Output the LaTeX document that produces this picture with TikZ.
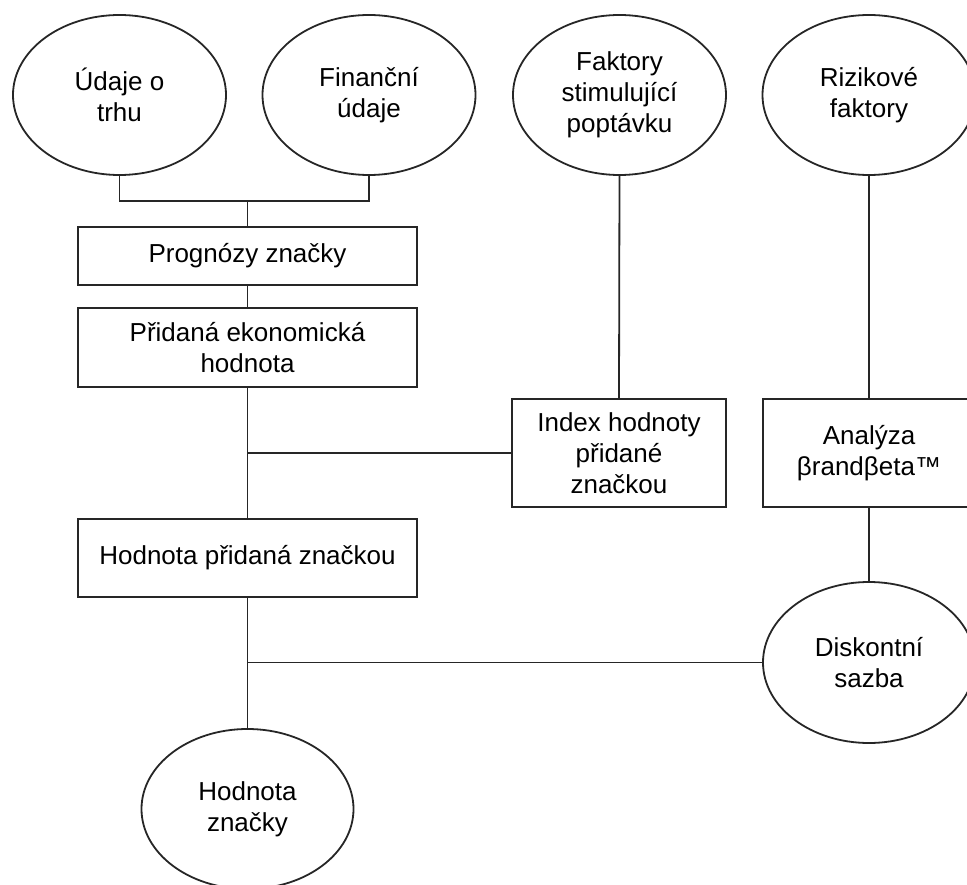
\documentclass[tikz,border=0pt]{standalone}
\usepackage{fontspec}
\setmainfont{Liberation Sans}
\usetikzlibrary{shapes.geometric}
\begin{document}
\begin{tikzpicture}[x=1pt,y=-1pt,
  every node/.style={font=\fontsize{26}{31}\selectfont, align=center, inner sep=0pt, line width=1.8pt, draw=black!85},
  oval/.style={ellipse, minimum width=213pt, minimum height=160pt},
  box/.style={rectangle},
  conn/.style={line width=1.8pt, draw=black!85}]
\useasboundingbox (0,0) rectangle (967,885);
\node[oval] (e1) at (119.5,95) {Údaje o\\trhu};
\node[oval] (e2) at (369,95) {Finanční\\údaje};
\node[oval] (e3) at (619.5,95) {Faktory\\stimulující\\poptávku};
\node[oval] (e4) at (869,95) {Rizikové\\faktory};
\node[box, minimum width=339pt, minimum height=58pt] (r1) at (247.5,256) {Prognózy značky};
\node[box, minimum width=339pt, minimum height=79pt] (r2) at (247.5,347.5) {Přidaná ekonomická\\hodnota};
\node[box, minimum width=214pt, minimum height=108pt] (r3) at (619,453) {Index hodnoty\\přidané\\značkou};
\node[box, minimum width=212pt, minimum height=108pt] (r4) at (869,453) {Analýza\\βrandβeta™};
\node[box, minimum width=339pt, minimum height=78pt] (r5) at (247.5,558) {Hodnota přidaná značkou};
\node[oval, minimum width=212pt, minimum height=161pt] (e5) at (869,662.5) {Diskontní\\sazba};
\node[oval, minimum width=212pt] (e6) at (247.5,809) {Hodnota\\značky};
\coordinate (j1) at (247.5,201);
\draw[conn] (e1.south) -- (e1.south |- j1) -- (e2.south |- j1) -- (e2.south);
\draw[conn] (j1) -- (r1.north);
\draw[conn] (r1.south) -- (r2.north);
\draw[conn] (r2.south) -- (r5.north);
\draw[conn] (r2.south |- r3.west) -- (r3.west);
\draw[conn] (e3.south) -- (r3.north);
\draw[conn] (e4.south) -- (r4.north);
\draw[conn] (r4.south) -- (e5.north);
\draw[conn] (r5.south) -- (e6.north);
\draw[conn] (r5.south |- e5.west) -- (e5.west);
\end{tikzpicture}
\end{document}
